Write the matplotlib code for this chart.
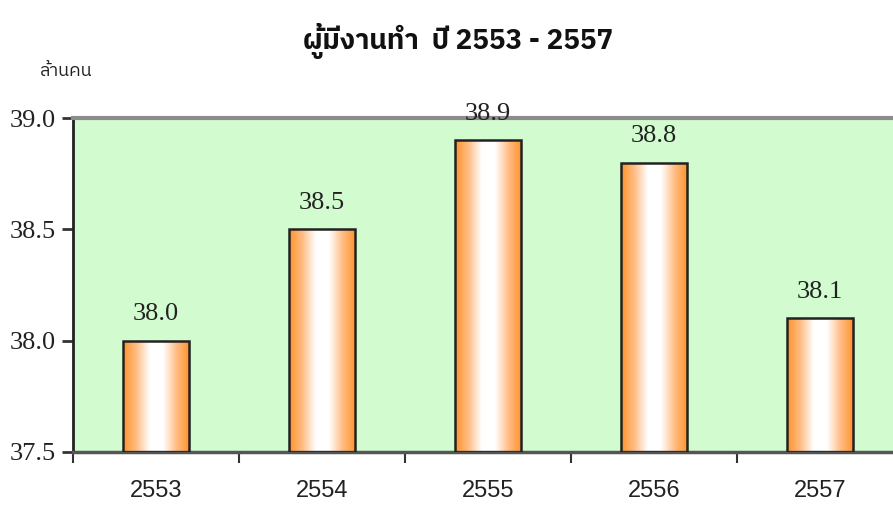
import matplotlib
matplotlib.use('Agg')
import matplotlib.pyplot as plt
import numpy as np
from matplotlib.colors import LinearSegmentedColormap

# ข้อมูล
years = ['2553', '2554', '2555', '2556', '2557']
employed = [38.0, 38.5, 38.9, 38.8, 38.1]
yticks = [37.5, 38.0, 38.5, 39.0]

thai = ['IBM Plex Sans Thai', 'Noto Sans Thai', 'DejaVu Sans']
serif = ['Liberation Serif', 'DejaVu Serif']
narrow = ['Liberation Sans Narrow', 'Liberation Sans', 'DejaVu Sans']

fig = plt.figure(figsize=(8.93, 5.07), dpi=100)
ax = fig.add_axes([0.0817, 0.1085, 1.011 - 0.0817, 0.767 - 0.1085])
ax.set_facecolor('#d2fcd0')

x = np.arange(len(years))
width = 0.4
bars = ax.bar(x, np.array(employed) - 37.5, width, bottom=37.5,
              color='none', edgecolor='#222222', linewidth=1.8, zorder=3)

# ไล่สีส้ม-ขาว-ส้ม ในแต่ละแท่ง
cmap = LinearSegmentedColormap.from_list('og', ['#ff922a', '#ffbd85', '#ffffff', '#ffffff', '#ffbd85', '#ff922a'])
grad = np.linspace(0, 1, 256).reshape(1, -1)
for b in bars:
    x0, y0 = b.get_x(), b.get_y()
    im = ax.imshow(grad, cmap=cmap, aspect='auto', zorder=2,
                   extent=[x0, x0 + b.get_width(), y0, y0 + b.get_height()])
    im.set_clip_path(b)

for xi, v in zip(x, employed):
    ax.annotate(f'{v:.1f}', (xi, v), xytext=(0, 11), textcoords='offset points',
                ha='center', va='bottom', fontsize=19, family=serif, color='#222222')

ax.set_xlim(-0.5, 4.5)
ax.set_ylim(37.5, 39.0)
ax.set_yticks(yticks)
ax.set_yticklabels([f'{t:.1f}' for t in yticks], family=serif, fontsize=19, color='#222222')
ax.set_xticks(np.arange(-0.5, 5, 1))
ax.set_xticklabels([])
ax.set_xticks(x, minor=True)
ax.set_xticklabels(years, minor=True, family=narrow, fontsize=17, color='#222222')
ax.tick_params(axis='x', which='major', length=8, width=1.5, direction='out', color='#333333')
ax.tick_params(axis='x', which='minor', length=0, pad=20)
ax.tick_params(axis='y', length=8, width=2, direction='out', color='#333333', pad=4)

ax.spines['top'].set_color('#8c8c8c')
ax.spines['top'].set_linewidth(3)
ax.spines['right'].set_visible(False)
ax.spines['left'].set_color('#222222')
ax.spines['left'].set_linewidth(2)
ax.spines['bottom'].set_color('#555555')
ax.spines['bottom'].set_linewidth(2.5)

fig.text(0.513, 0.92, 'ผู้มีงานทำ  ปี 2553 - 2557', ha='center', va='center',
         fontsize=20, fontweight='bold', family=thai, color='#111111')
fig.text(0.045, 0.86, 'ล้านคน', ha='left', va='center', fontsize=13, family=thai, color='#222222')

fig.savefig('out.png', dpi=100)
